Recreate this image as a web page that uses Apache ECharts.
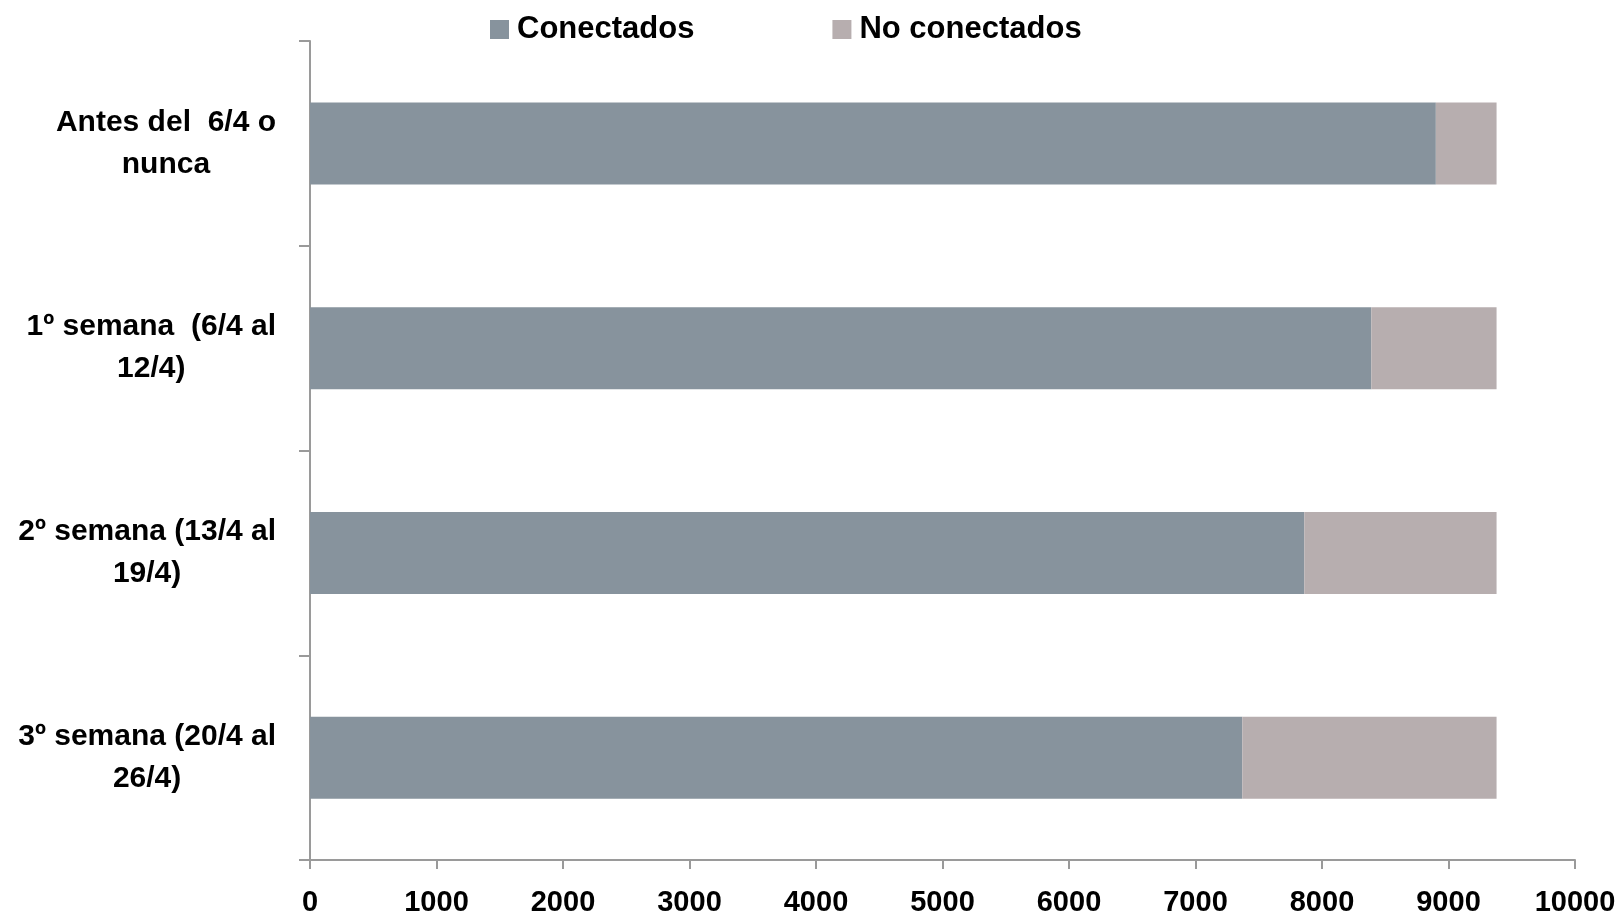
<!DOCTYPE html>
<html>
<head>
<meta charset="utf-8">
<script src="https://cdn.jsdelivr.net/npm/echarts@6/dist/echarts.min.js"></script>
<style>
  html, body { margin: 0; padding: 0; background: #ffffff; }
  #chart { width: 1616px; height: 913px; }
</style>
</head>
<body>
<div id="chart"></div>
<script>
const categories = [
  'Antes del  6/4 o\nnunca',
  '1º semana  (6/4 al\n12/4)',
  '2º semana (13/4 al\n19/4)',
  '3º semana (20/4 al\n26/4)'
];
const conectados = [8900, 8390, 7860, 7370];
const noConectados = [480, 990, 1520, 2010];
const seriesNames = ['Conectados', 'No conectados'];
const xTicks = { min: 0, max: 10000, interval: 1000 };

const FONT = '"Liberation Sans Narrow", "Liberation Sans", Arial, sans-serif';
const chart = echarts.init(document.getElementById('chart'), null, { renderer: 'canvas' });
chart.setOption({
  backgroundColor: '#ffffff',
  animation: false,
  legend: {
    left: 490,
    top: 14,
    padding: 0,
    itemWidth: 19,
    itemHeight: 19,
    itemGap: 138,
    icon: 'rect',
    textStyle: { fontFamily: FONT, fontWeight: 'bold', fontSize: 31, color: '#000000', padding: [0, 0, 0, 3] },
    data: seriesNames
  },
  grid: { left: 310, right: 41, top: 41, bottom: 53, containLabel: false, outerBoundsMode: 'none' },
  xAxis: {
    type: 'value',
    min: xTicks.min,
    max: xTicks.max,
    interval: xTicks.interval,
    axisLine: { show: true, lineStyle: { color: '#9a9a9a', width: 2 } },
    axisTick: { show: true, inside: false, length: 9, lineStyle: { color: '#9a9a9a', width: 2 } },
    splitLine: { show: false },
    axisLabel: {
      margin: 28,
      fontFamily: FONT,
      fontWeight: 'bold',
      fontSize: 29,
      color: '#000000',
      formatter: function (v) { return String(v); }
    }
  },
  yAxis: {
    type: 'category',
    inverse: true,
    data: categories,
    axisLine: { show: true, lineStyle: { color: '#9a9a9a', width: 2 } },
    axisTick: { show: true, inside: false, length: 11, alignWithLabel: false, lineStyle: { color: '#9a9a9a', width: 2 } },
    axisLabel: {
      margin: 34,
      align: 'right',
      fontFamily: FONT,
      fontWeight: 'bold',
      fontSize: 30,
      lineHeight: 42,
      color: '#000000',
      formatter: function (v) {
        return v.split('\n').map(function (l) { return '{c|' + l + '}'; }).join('\n');
      },
      rich: {
        c: {
          align: 'center',
          fontFamily: FONT,
          fontWeight: 'bold',
          fontSize: 30,
          lineHeight: 42,
          color: '#000000'
        }
      }
    }
  },
  series: [
    {
      name: seriesNames[0],
      type: 'bar',
      stack: 'total',
      barWidth: 82,
      data: conectados,
      itemStyle: { color: '#87939d' }
    },
    {
      name: seriesNames[1],
      type: 'bar',
      stack: 'total',
      barWidth: 82,
      data: noConectados,
      itemStyle: { color: '#b7aeaf' }
    }
  ]
});
</script>
</body>
</html>
